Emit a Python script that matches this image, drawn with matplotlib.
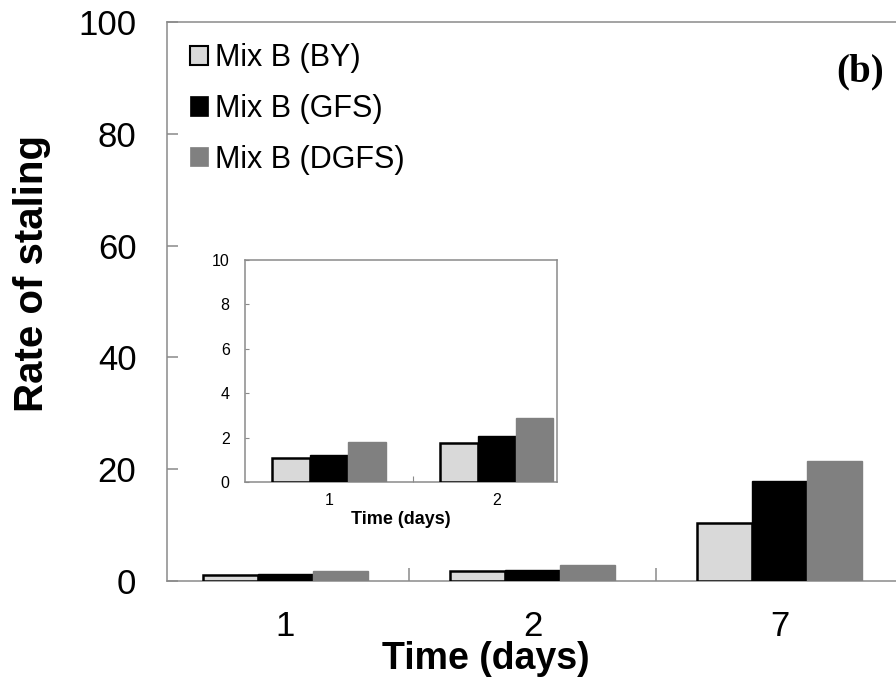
import numpy as np
from matplotlib import pyplot as plt
from matplotlib.patches import Patch

# data
days = ['1', '2', '7']
series_names = ['Mix B (BY)', 'Mix B (GFS)', 'Mix B (DGFS)']
staling_by = [1.1, 1.75, 10.4]
staling_gfs = [1.2, 2.05, 17.8]
staling_dgfs = [1.8, 2.9, 21.5]

inset_days = ['1', '2']
inset_by = [1.1, 1.75]
inset_gfs = [1.2, 2.05]
inset_dgfs = [1.8, 2.9]

fills = ['#d9d9d9', '#000000', '#808080']
edges = ['#000000', '#000000', '#808080']
spine_gray = '#8a8a8a'

plt.rcParams['font.family'] = ['Liberation Sans', 'DejaVu Sans']


def draw_bars(ax, values, width):
    """ Draw the three grouped series on ax. """
    x = np.arange(len(values[0]))
    for i, vals in enumerate(values):
        ax.bar(x + (i - 1) * width, vals, width, color=fills[i],
               edgecolor=edges[i], linewidth=1.8 if i == 0 else 1.0,
               zorder=3)
    return x


def style_frame(ax):
    for side in ['left', 'bottom', 'top', 'right']:
        ax.spines[side].set_color(spine_gray)
        ax.spines[side].set_linewidth(1.1)


fig = plt.figure(figsize=(8.96, 7), dpi=100)

# main axes (the right side runs past the picture, as in the reference)
ax = fig.add_axes([167 / 896, 119 / 700, 736 / 896, 559 / 700])
x = draw_bars(ax, [staling_by, staling_gfs, staling_dgfs], 0.222)
ax.set_xlim(-0.48, 2.5)
ax.set_ylim(0, 100)
style_frame(ax)

ax.set_yticks(np.arange(0, 101, 20))
ax.tick_params(axis='y', direction='in', length=8, width=1.1,
               color=spine_gray, labelsize=25, pad=22)
ax.set_xticks(x)
ax.set_xticklabels(days, fontsize=25)
ax.set_xticks([0.5, 1.5], minor=True)
ax.tick_params(axis='x', which='major', length=0, pad=21)
ax.tick_params(axis='x', which='minor', direction='in', length=9.5,
               width=1.1, color=spine_gray)

fig.text(486 / 896, 1 - 669 / 700, 'Time (days)', fontsize=27,
         fontweight='bold', ha='center', va='baseline')
fig.text(32 / 896, 1 - 274 / 700, 'Rate of staling', fontsize=29,
         fontweight='bold', rotation=90, ha='center', va='center')
fig.text(860 / 896, 1 - 72 / 700, '(b)', family='Liberation Serif',
         fontsize=28, fontweight='bold', ha='center', va='center')

handles = [Patch(facecolor=fills[i], edgecolor=edges[i],
                 linewidth=1.5 if i == 0 else 0.5) for i in range(3)]
fig.legend(handles, series_names, loc='upper left',
           bbox_to_anchor=(190 / 896, 1 - 43 / 700), frameon=False,
           fontsize=22, handlelength=0.6, handleheight=0.6,
           handletextpad=0.22, labelspacing=0.68, borderpad=0,
           borderaxespad=0)

# inset with the first two days
axin = fig.add_axes([245 / 896, 218 / 700, 312 / 896, 222 / 700])
xi = draw_bars(axin, [inset_by, inset_gfs, inset_dgfs], 0.226)
axin.set_xlim(-0.5, 1.36)
axin.set_ylim(0, 10)
style_frame(axin)
axin.set_yticks(np.arange(0, 11, 2))
axin.tick_params(axis='y', direction='in', length=3, width=0.8,
                 color=spine_gray, labelsize=11.5, pad=11)
axin.set_xticks(xi)
axin.set_xticklabels(inset_days, fontsize=11.5)
axin.set_xticks([0.5], minor=True)
axin.tick_params(axis='x', which='major', length=0, pad=8)
axin.tick_params(axis='x', which='minor', direction='in', length=4,
                 width=0.8, color=spine_gray)
axin.set_xlabel('Time (days)', fontsize=13, fontweight='bold', labelpad=2)

fig.savefig('out.png', dpi=100)
